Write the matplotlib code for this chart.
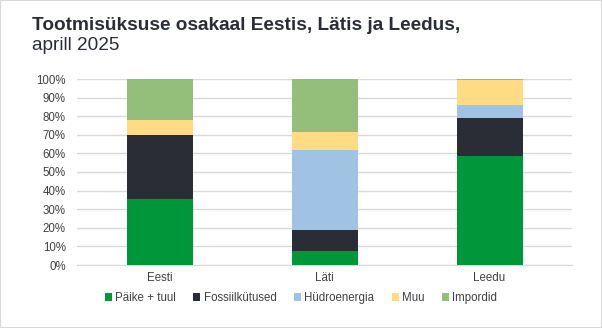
import matplotlib
matplotlib.use("Agg")
import matplotlib.pyplot as plt
from matplotlib.patches import Rectangle
from matplotlib.ticker import PercentFormatter

plt.rcParams['font.family'] = ['Liberation Sans', 'DejaVu Sans']

categories = ["Eesti", "Läti", "Leedu"]
series_names = ["Päike + tuul", "Fossiilkütused", "Hüdroenergia", "Muu", "Impordid"]
paike = [35.5, 7.5, 58.6]
fossiil = [34.4, 11.3, 20.4]
hydro = [0.0, 43.0, 7.0]
muu = [8.1, 9.7, 13.5]
impordid = [22.0, 28.5, 0.5]
colors = ["#00963A", "#2B2D36", "#A0C3E4", "#FFDB84", "#94BF7A"]
yticks = [0, 10, 20, 30, 40, 50, 60, 70, 80, 90, 100]

fig = plt.figure(figsize=(6.02, 3.28), dpi=100)
ax = fig.add_axes([77/602, 63/328, 495/602, 186/328])

x = list(range(len(categories)))
bottom = [0.0] * len(categories)
for name, vals, c in zip(series_names, [paike, fossiil, hydro, muu, impordid], colors):
    ax.bar(x, vals, bottom=bottom, width=0.4, color=c, label=name, zorder=3)
    bottom = [b + v for b, v in zip(bottom, vals)]

ax.set_xlim(-0.5, 2.5)
ax.set_ylim(0, 100)
ax.set_yticks(yticks)
ax.yaxis.set_major_formatter(PercentFormatter(decimals=0))
ax.set_xticks(x)
ax.set_xticklabels(categories)
ax.grid(axis='y', color='#D9D9D9', linewidth=1, zorder=0)
for s in ['top', 'right', 'left']:
    ax.spines[s].set_visible(False)
ax.spines['bottom'].set_color('#D9D9D9')
ax.tick_params(axis='both', length=0, labelsize=8.3, colors='#404040')
ax.tick_params(axis='y', pad=8)
ax.tick_params(axis='x', pad=5)

leg = fig.legend(loc='center', bbox_to_anchor=(0.5, 30/328), ncol=5, frameon=False,
                 fontsize=8.3, handlelength=0.6, handleheight=0.6, handletextpad=0.3,
                 columnspacing=1.5, labelcolor='#404040')

fig.text(32/602, 1 - 25/328, "Tootmisüksuse osakaal Eestis, Lätis ja Leedus,",
         fontsize=13.7, fontweight='bold', color='#2B2D36', va='center', ha='left')
fig.text(32/602, 1 - 46/328, "aprill 2025", fontsize=13.7, color='#2B2D36', va='center', ha='left')

fig.patches.append(Rectangle((0, 0), 1, 1, transform=fig.transFigure, fill=False,
                             edgecolor='#D9D9D9', linewidth=1.5))

fig.savefig("out.png", dpi=100)
